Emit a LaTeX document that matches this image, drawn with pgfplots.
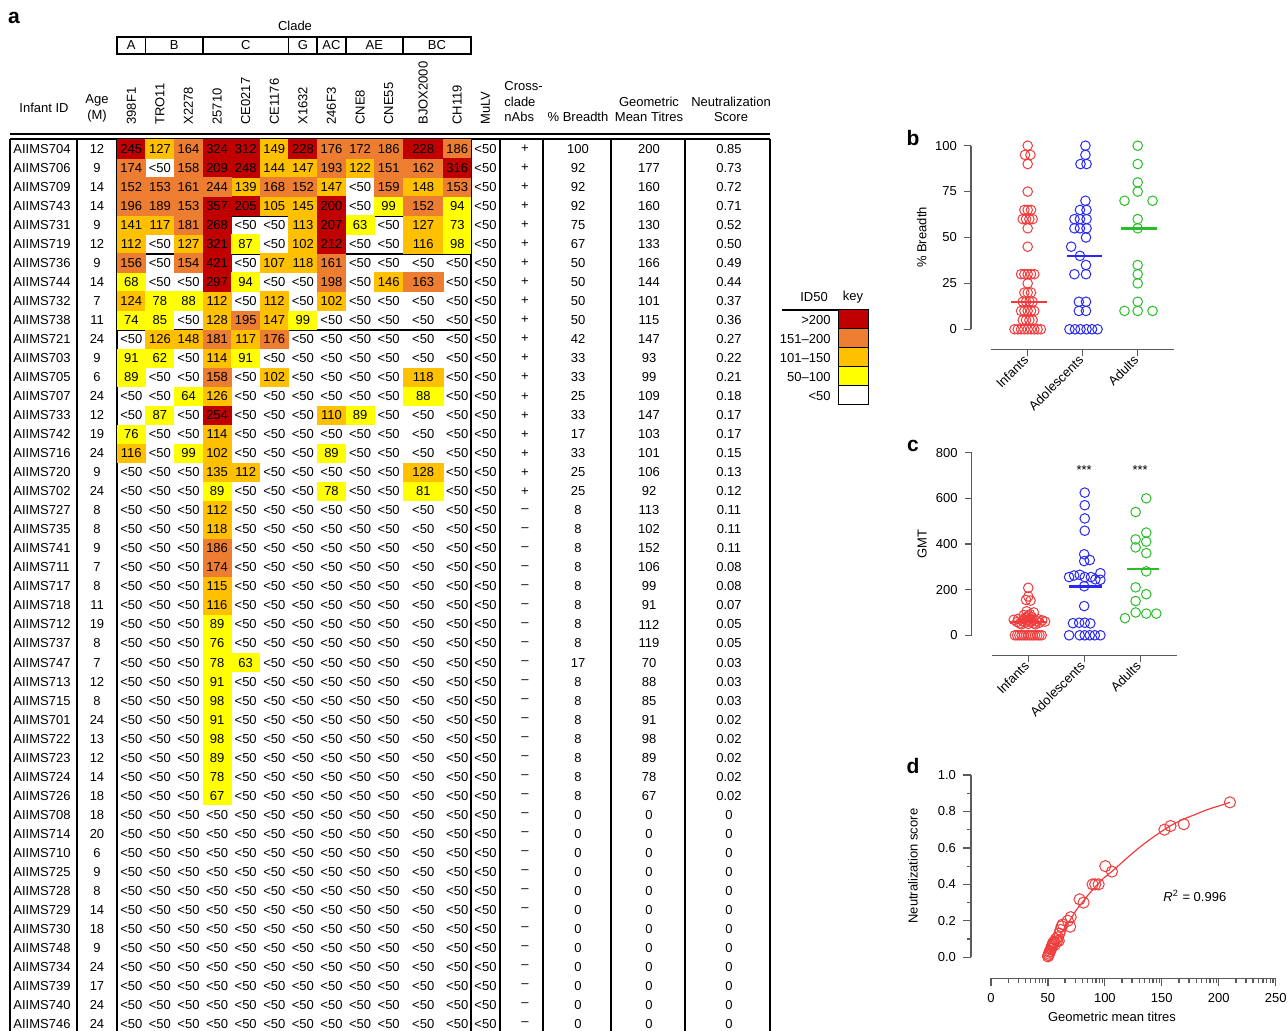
\documentclass[border=0pt]{standalone}
\usepackage{fontspec}
\setmainfont{Liberation Sans}
\usepackage{pgfplots}
\usepackage{pgfplotstable}
\pgfplotsset{compat=1.18}
\newcommand\fs{\fontsize{6.5}{7.8}\selectfont}
\definecolor{hR}{RGB}{192,0,0}
\definecolor{hO}{RGB}{237,125,49}
\definecolor{hA}{RGB}{255,192,0}
\definecolor{hY}{RGB}{255,255,0}
\definecolor{cR}{RGB}{240,60,60}
\definecolor{cB}{RGB}{40,40,240}
\definecolor{cG}{RGB}{40,190,40}
\definecolor{axc}{RGB}{90,90,90}
\pgfdeclareplotmark{cellA}{\pgfpathrectangle{\pgfpoint{-7.22pt}{-4.83pt}}{\pgfpoint{14.45pt}{9.66pt}}\pgfusepathqfill}
\pgfdeclareplotmark{cellB}{\pgfpathrectangle{\pgfpoint{-10.2pt}{-4.83pt}}{\pgfpoint{20.4pt}{9.66pt}}\pgfusepathqfill}
\pgfdeclareplotmark{cellC}{\pgfpathrectangle{\pgfpoint{-6.95pt}{-4.83pt}}{\pgfpoint{13.9pt}{9.66pt}}\pgfusepathqfill}
\pgfdeclareplotmark{nothing}{}

\pgfplotstableread{
r id age v1 v2 v3 v4 v5 v6 v7 v8 v9 v10 v11 v12 v13 cc br gmt sc
0 AIIMS704 12 245 127 164 324 312 149 228 176 172 186 228 186 0 + 100 200 0.85
1 AIIMS706 9 174 0 158 209 248 144 147 193 122 151 162 316 0 + 92 177 0.73
2 AIIMS709 14 152 153 161 244 139 168 152 147 0 159 148 153 0 + 92 160 0.72
3 AIIMS743 14 196 189 153 357 205 105 145 200 0 99 152 94 0 + 92 160 0.71
4 AIIMS731 9 141 117 181 268 0 0 113 207 63 0 127 73 0 + 75 130 0.52
5 AIIMS719 12 112 0 127 321 87 0 102 212 0 0 116 98 0 + 67 133 0.50
6 AIIMS736 9 156 0 154 421 0 107 118 161 0 0 0 0 0 + 50 166 0.49
7 AIIMS744 14 68 0 0 297 94 0 0 198 0 146 163 0 0 + 50 144 0.44
8 AIIMS732 7 124 78 88 112 0 112 0 102 0 0 0 0 0 + 50 101 0.37
9 AIIMS738 11 74 85 0 128 195 147 99 0 0 0 0 0 0 + 50 115 0.36
10 AIIMS721 24 0 126 148 181 117 176 0 0 0 0 0 0 0 + 42 147 0.27
11 AIIMS703 9 91 62 0 114 91 0 0 0 0 0 0 0 0 + 33 93 0.22
12 AIIMS705 6 89 0 0 158 0 102 0 0 0 0 118 0 0 + 33 99 0.21
13 AIIMS707 24 0 0 64 126 0 0 0 0 0 0 88 0 0 + 25 109 0.18
14 AIIMS733 12 0 87 0 254 0 0 0 110 89 0 0 0 0 + 33 147 0.17
15 AIIMS742 19 76 0 0 114 0 0 0 0 0 0 0 0 0 + 17 103 0.17
16 AIIMS716 24 116 0 99 102 0 0 0 89 0 0 0 0 0 + 33 101 0.15
17 AIIMS720 9 0 0 0 135 112 0 0 0 0 0 128 0 0 + 25 106 0.13
18 AIIMS702 24 0 0 0 89 0 0 0 78 0 0 81 0 0 + 25 92 0.12
19 AIIMS727 8 0 0 0 112 0 0 0 0 0 0 0 0 0 – 8 113 0.11
20 AIIMS735 8 0 0 0 118 0 0 0 0 0 0 0 0 0 – 8 102 0.11
21 AIIMS741 9 0 0 0 186 0 0 0 0 0 0 0 0 0 – 8 152 0.11
22 AIIMS711 7 0 0 0 174 0 0 0 0 0 0 0 0 0 – 8 106 0.08
23 AIIMS717 8 0 0 0 115 0 0 0 0 0 0 0 0 0 – 8 99 0.08
24 AIIMS718 11 0 0 0 116 0 0 0 0 0 0 0 0 0 – 8 91 0.07
25 AIIMS712 19 0 0 0 89 0 0 0 0 0 0 0 0 0 – 8 112 0.05
26 AIIMS737 8 0 0 0 76 0 0 0 0 0 0 0 0 0 – 8 119 0.05
27 AIIMS747 7 0 0 0 78 63 0 0 0 0 0 0 0 0 – 17 70 0.03
28 AIIMS713 12 0 0 0 91 0 0 0 0 0 0 0 0 0 – 8 88 0.03
29 AIIMS715 8 0 0 0 98 0 0 0 0 0 0 0 0 0 – 8 85 0.03
30 AIIMS701 24 0 0 0 91 0 0 0 0 0 0 0 0 0 – 8 91 0.02
31 AIIMS722 13 0 0 0 98 0 0 0 0 0 0 0 0 0 – 8 98 0.02
32 AIIMS723 12 0 0 0 89 0 0 0 0 0 0 0 0 0 – 8 89 0.02
33 AIIMS724 14 0 0 0 78 0 0 0 0 0 0 0 0 0 – 8 78 0.02
34 AIIMS726 18 0 0 0 67 0 0 0 0 0 0 0 0 0 – 8 67 0.02
35 AIIMS708 18 0 0 0 0 0 0 0 0 0 0 0 0 0 – 0 0 0
36 AIIMS714 20 0 0 0 0 0 0 0 0 0 0 0 0 0 – 0 0 0
37 AIIMS710 6 0 0 0 0 0 0 0 0 0 0 0 0 0 – 0 0 0
38 AIIMS725 9 0 0 0 0 0 0 0 0 0 0 0 0 0 – 0 0 0
39 AIIMS728 8 0 0 0 0 0 0 0 0 0 0 0 0 0 – 0 0 0
40 AIIMS729 14 0 0 0 0 0 0 0 0 0 0 0 0 0 – 0 0 0
41 AIIMS730 18 0 0 0 0 0 0 0 0 0 0 0 0 0 – 0 0 0
42 AIIMS748 9 0 0 0 0 0 0 0 0 0 0 0 0 0 – 0 0 0
43 AIIMS734 24 0 0 0 0 0 0 0 0 0 0 0 0 0 – 0 0 0
44 AIIMS739 17 0 0 0 0 0 0 0 0 0 0 0 0 0 – 0 0 0
45 AIIMS740 24 0 0 0 0 0 0 0 0 0 0 0 0 0 – 0 0 0
46 AIIMS746 24 0 0 0 0 0 0 0 0 0 0 0 0 0 – 0 0 0
}\heat

\pgfplotsset{
  lab/.style={only marks, mark=nothing,
    every node near coord/.append style={anchor=center, inner sep=0pt, font=\fs}},
  tcol/.style={lab, point meta=explicit symbolic, nodes near coords={\pgfplotspointmeta}},
  prism/.style={scale only axis, anchor=south west, axis lines*=left,
    axis x line shift=10pt, axis y line shift=10pt,
    axis line style={axc, line width=0.6pt}, every tick/.style={axc, line width=0.6pt},
    tick align=outside, major tick length=3.5pt, minor tick length=2.2pt,
    tick label style={font=\fs}, label style={font=\fs},
    /pgf/number format/assume math mode=true, clip=false}
}
\newcommand\rowy{149+19.02*\thisrow{r}}
\newcommand\heatclass[5]{\addplot[only marks, mark=#3, color=#4, restrict expr to domain={\thisrow{#1}}{#5}] table[x expr=#2, y expr=\rowy]{\heat};}
\newcommand\heatcol[3]{%
\heatclass{#1}{#2}{#3}{hY}{49.5:100.5}
\heatclass{#1}{#2}{#3}{hA}{100.5:150.5}
\heatclass{#1}{#2}{#3}{hO}{150.5:199.5}
\heatclass{#1}{#2}{#3}{hR}{199.5:100000}
\addplot[lab, point meta=explicit symbolic, nodes near coords={\pgfplotspointmeta}, restrict expr to domain={\thisrow{#1}}{49.5:100000}] table[x expr=#2, y expr=\rowy, meta=#1]{\heat};
\addplot[lab, nodes near coords={<50}, restrict expr to domain={\thisrow{#1}}{-1:49.5}] table[x expr=#2, y expr=\rowy]{\heat};
}

\begin{document}
\begin{tikzpicture}
\begin{axis}[at={(0,0)}, anchor=south west, scale only axis, width=643.5pt, height=515.5pt,
  xmin=0, xmax=1287, ymin=0, ymax=1031, y dir=reverse, hide axis, clip=false]
\heatcol{v1}{131.3}{cellA}
\heatcol{v2}{159.9}{cellA}
\heatcol{v3}{188.5}{cellA}
\heatcol{v4}{217.1}{cellA}
\heatcol{v5}{245.7}{cellA}
\heatcol{v6}{274.3}{cellA}
\heatcol{v7}{302.9}{cellA}
\heatcol{v8}{331.5}{cellA}
\heatcol{v9}{360.1}{cellA}
\heatcol{v10}{388.7}{cellA}
\heatcol{v11}{423.25}{cellB}
\heatcol{v12}{457.25}{cellC}
\addplot[lab, nodes near coords={<50}] table[x expr=485.5, y expr=\rowy]{\heat};
\addplot[only marks, mark=cellA, color=hO] coordinates {(217.1,187.04)};
\addplot[lab, point meta=explicit symbolic, nodes near coords={\pgfplotspointmeta}] coordinates {(217.1,187.04) [244]};
\addplot[tcol, every node near coord/.append style={anchor=west}] table[x expr=13, y expr=\rowy, meta=id]{\heat};
\addplot[tcol] table[x expr=97, y expr=\rowy, meta=age]{\heat};
\addplot[tcol] table[x expr=525, y expr=\rowy, meta=cc]{\heat};
\addplot[tcol] table[x expr=578, y expr=\rowy, meta=br]{\heat};
\addplot[tcol] table[x expr=649, y expr=\rowy, meta=gmt]{\heat};
\addplot[tcol] table[x expr=729, y expr=\rowy, meta=sc]{\heat};
\pgfplotsextra{
\draw[line width=1pt] (9.5,134.5) -- (770,134.5);
\draw[line width=0.75pt] (9.5,138.8) -- (770,138.8);
\foreach \xx/\ww in {10/1pt, 77/0.6pt, 117/1pt, 471/1pt, 500/0.6pt, 543/0.6pt, 611/0.6pt, 685/0.6pt, 770/0.6pt}
  {\draw[line width=\ww] (\xx,138.8) -- (\xx,1031);}
\foreach \yy in {215.6, 253.6, 329.7} {\draw[line width=1pt] (117,\yy) -- (471,\yy);}
\node[font=\fs] at (295,26) {Clade};
\draw[line width=0.75pt] (117,37) rectangle (471,54);
\foreach \xx in {145.6,202.8,288.6,317.2,345.8,403} {\draw[line width=0.75pt] (\xx,37) -- (\xx,54);}
\foreach \xx/\lab in {131.3/A, 174.2/B, 245.7/C, 302.9/G, 331.5/AC, 374.4/AE, 437/BC}
  {\node[font=\fs] at (\xx,45.5) {\lab};}
\foreach \xx/\lab in {131.3/398F1, 159.9/TRO11, 188.5/X2278, 217.1/25710, 245.7/CE0217, 274.3/CE1176, 302.9/X1632, 331.5/246F3, 360.1/CNE8, 388.7/CNE55, 423.25/BJOX2000, 457.25/CH119, 485.5/MuLV}
  {\node[font=\fs, rotate=90, anchor=west, inner sep=0pt] at (\xx,125) {\lab};}
\node[font=\fs] at (44,108) {Infant ID};
\node[font=\fs] at (97,100) {Age};
\node[font=\fs] at (97,116) {(M)};
\node[font=\fs, anchor=west, inner sep=0pt] at (504,86) {Cross-};
\node[font=\fs, anchor=west, inner sep=0pt] at (504,101.5) {clade};
\node[font=\fs, anchor=west, inner sep=0pt] at (504,117) {nAbs};
\node[font=\fs] at (578,117) {\% Breadth};
\node[font=\fs] at (649,101.5) {Geometric};
\node[font=\fs] at (649,117) {Mean Titres};
\node[font=\fs] at (731,101.5) {Neutralization};
\node[font=\fs] at (731,117) {Score};
\node[font=\fs] at (814,297) {ID50};
\node[font=\fs] at (853,297) {key};
\draw[line width=0.6pt] (782,310) -- (868,310);
\filldraw[fill=hR, draw=black, line width=0.5pt] (838,310) rectangle (868,329);
\filldraw[fill=hO, draw=black, line width=0.5pt] (838,329) rectangle (868,348);
\filldraw[fill=hA, draw=black, line width=0.5pt] (838,348) rectangle (868,367);
\filldraw[fill=hY, draw=black, line width=0.5pt] (838,367) rectangle (868,386);
\filldraw[fill=white, draw=black, line width=0.5pt] (838,386) rectangle (868,405);
\node[font=\fs, anchor=east, inner sep=0pt] at (831,320) {>200};
\node[font=\fs, anchor=east, inner sep=0pt] at (831,339) {151–200};
\node[font=\fs, anchor=east, inner sep=0pt] at (831,358) {101–150};
\node[font=\fs, anchor=east, inner sep=0pt] at (831,377) {50–100};
\node[font=\fs, anchor=east, inner sep=0pt] at (831,396) {<50};
\node[font=\bfseries\fontsize{10.5}{12}\selectfont] at (14,18) {a};
\node[font=\bfseries\fontsize{10.5}{12}\selectfont] at (913,138) {b};
\node[font=\bfseries\fontsize{10.5}{12}\selectfont] at (913,446) {c};
\node[font=\bfseries\fontsize{10.5}{12}\selectfont] at (913,766) {d};
}
\end{axis}

% panel b
\begin{axis}[prism, at={(495.5pt,350.85pt)}, width=91.5pt, height=91.8pt,
  xmin=0.333, xmax=3.66, ymin=0, ymax=100, ytick={0,25,50,75,100},
  xtick={1,2,3}, xticklabels={Infants,Adolescents,Adults},
  xticklabel style={rotate=45, anchor=east, inner sep=1pt},
  ylabel={\% Breadth}, every axis y label/.append style={at={(axis description cs:-0.379,0.5)}, anchor=center}]
\addplot[only marks, mark=o, mark size=2.4pt, cR, mark options={line width=0.5pt}] coordinates {
(1.00,100)(0.95,95)(1.05,95)(1.00,90)(1.00,75)(0.94,65)(1.00,65)(1.06,65)(0.91,60)(0.97,60)(1.03,60)(1.09,60)(1.00,55)(1.00,45)
(0.88,30)(0.94,30)(1.00,30)(1.06,30)(1.12,30)(1.00,25)(0.94,20)(1.00,20)(1.06,20)(0.91,15)(0.97,15)(1.03,15)(1.09,15)
(0.88,10)(0.94,10)(1.00,10)(1.06,10)(1.12,10)(0.91,5)(0.97,5)(1.03,5)(1.09,5)
(0.76,0)(0.82,0)(0.88,0)(0.94,0)(1.00,0)(1.06,0)(1.12,0)(1.18,0)(1.24,0)};
\addplot[only marks, mark=o, mark size=2.4pt, cB, mark options={line width=0.5pt}] coordinates {
(2.05,100)(2.05,95)(1.96,90)(2.07,90)(2.05,70)(1.95,65)(2.07,65)(1.85,60)(1.95,60)(2.07,60)(1.85,55)(1.95,55)(2.07,55)(2.06,50)
(1.79,45)(1.95,40)(2.06,35)(1.85,30)(2.06,30)(1.93,15)(2.06,15)(1.93,10)(2.06,10)(1.76,0)(1.86,0)(1.96,0)(2.07,0)(2.17,0)(2.27,0)};
\addplot[only marks, mark=o, mark size=2.4pt, cG, mark options={line width=0.5pt}] coordinates {
(3,100)(3,90)(3,80)(3,75)(2.76,70)(3.27,70)(3,60)(3,55)(3,35)(3,30)(3,25)(3,15)(2.76,10)(3,10)(3.27,10)};
\addplot[cR, line width=1.2pt] coordinates {(0.69,15)(1.35,15)};
\addplot[cB, line width=1.2pt] coordinates {(1.71,40)(2.35,40)};
\addplot[cG, line width=1.2pt] coordinates {(2.69,55)(3.35,55)};
\end{axis}

% panel c
\begin{axis}[prism, at={(495.85pt,197.85pt)}, width=92.65pt, height=91.3pt,
  xmin=0.346, xmax=3.66, ymin=0, ymax=800, ytick={0,200,400,600,800},
  xtick={1,2,3}, xticklabels={Infants,Adolescents,Adults},
  xticklabel style={rotate=45, anchor=east, inner sep=1pt},
  ylabel={GMT}, every axis y label/.append style={at={(axis description cs:-0.376,0.5)}, anchor=center}]
\addplot[only marks, mark=o, mark size=2.4pt, cR, mark options={line width=0.5pt}] coordinates {
(1.0,208)(1.0,170)(0.96,155)(1.04,152)
(0.92,88)(0.97,105)(1.03,92)(1.1,100)(1.0,85)(0.95,78)(1.06,80)
(0.82,72)(0.88,48)(0.93,70)(0.98,65)(1.03,72)(1.08,68)(1.13,48)(1.18,70)
(0.74,68)(0.8,58)(0.85,52)(0.9,62)(0.95,55)(1.0,50)(1.05,58)(1.1,52)(1.15,62)(1.2,55)(1.25,65)(1.3,60)
(0.76,0)(0.8,0)(0.84,0)(0.88,0)(0.92,0)(0.96,0)(1.0,0)(1.04,0)(1.08,0)(1.12,0)(1.16,0)(1.2,0)(1.24,0)};
\addplot[only marks, mark=o, mark size=2.4pt, cB, mark options={line width=0.5pt}] coordinates {
(2.01,625)(2.01,570)(2.01,512)(2.01,458)(2.0,355)(2.0,325)(2.1,330)(2.29,272)(1.82,262)(1.92,265)(1.73,255)(2.01,255)(2.12,255)
(2.2,245)(2.29,243)(2.0,215)(2.0,128)(1.8,53)(1.91,55)(2.01,55)(2.11,52)(1.73,0)(1.92,0)(2.01,0)(2.1,0)(2.19,0)(2.29,0)};
\addplot[only marks, mark=o, mark size=2.4pt, cG, mark options={line width=0.5pt}] coordinates {
(3.11,600)(2.92,540)(3.11,450)(2.92,420)(3.11,410)(2.92,385)(3.11,360)(3.11,280)(2.92,210)(3.11,180)(2.92,150)(2.92,100)(3.11,95)(3.29,95)(2.73,75)};
\addplot[cR, line width=1.2pt] coordinates {(0.67,58)(1.33,58)};
\addplot[cB, line width=1.2pt] coordinates {(1.73,213)(2.32,213)};
\addplot[cG, line width=1.2pt] coordinates {(2.76,290)(3.33,290)};
\node[font=\fs] at (2,722) {***};
\node[font=\fs] at (3,722) {***};
\end{axis}

% panel d
\begin{axis}[prism, at={(495.5pt,36.85pt)}, width=142.35pt, height=91.15pt,
  axis x line shift=10.5pt,
  xmin=0, xmax=250, ymin=0, ymax=1, xtick={0,50,100,150,200,250}, ytick={0,0.2,0.4,0.6,0.8,1.0},
  minor ytick={0.1,0.3,0.5,0.7,0.9},
  minor xtick={15.05,23.86,30.10,34.95,38.91,42.25,45.15,47.71,65.05,73.86,80.10,84.95,88.91,92.25,95.15,97.71,115.05,123.86,130.10,134.95,138.91,142.25,145.15,147.71,165.05,173.86,180.10,184.95,188.91,192.25,195.15,197.71,215.05,223.86,230.10,234.95,238.91,242.25,245.15,247.71},
  yticklabel style={/pgf/number format/.cd, fixed, fixed zerofill, precision=1},
  major tick length=4pt,
  xlabel={Geometric mean titres}, every axis x label/.append style={at={(axis description cs:0.425,-0.327)}, anchor=center},
  ylabel={Neutralization score}, every axis y label/.append style={at={(axis description cs:-0.274,0.5)}, anchor=center}]
\addplot[cR, line width=0.6pt, smooth] coordinates {(50,0.005)(55,0.06)(60,0.115)(65,0.165)(70,0.21)(75,0.26)(80,0.30)(85,0.34)(90,0.375)(95,0.41)(100,0.44)(106,0.47)(115,0.52)(125,0.575)(135,0.625)(145,0.67)(152,0.70)(160,0.73)(170,0.76)(180,0.785)(190,0.81)(200,0.83)(210,0.85)};
\addplot[only marks, mark=o, mark size=2.8pt, cR, mark options={line width=0.5pt}] coordinates {
(50,0.005)(50.5,0.012)(51,0.02)(51.5,0.03)(52,0.035)(52.5,0.045)(53,0.05)(53.5,0.06)(54,0.07)(54.5,0.078)(55.5,0.085)(56,0.068)
(57,0.1)(58,0.088)(58.7,0.11)(59.5,0.09)(60,0.13)(61,0.15)(62,0.17)(63,0.18)(67.5,0.2)(70,0.22)(69.5,0.168)(77.8,0.318)(81.3,0.3)
(89.2,0.4)(91.5,0.4)(94.5,0.4)(100.4,0.5)(106.2,0.47)(152.3,0.70)(157.6,0.72)(169.3,0.73)(209.8,0.85)};
\node[font=\fs] at (179,0.336) {\textit{R}\textsuperscript{2} = 0.996};
\end{axis}
\pgfresetboundingbox
\path[use as bounding box] (0,0) rectangle (643.5pt,515.5pt);
\end{tikzpicture}
\end{document}
